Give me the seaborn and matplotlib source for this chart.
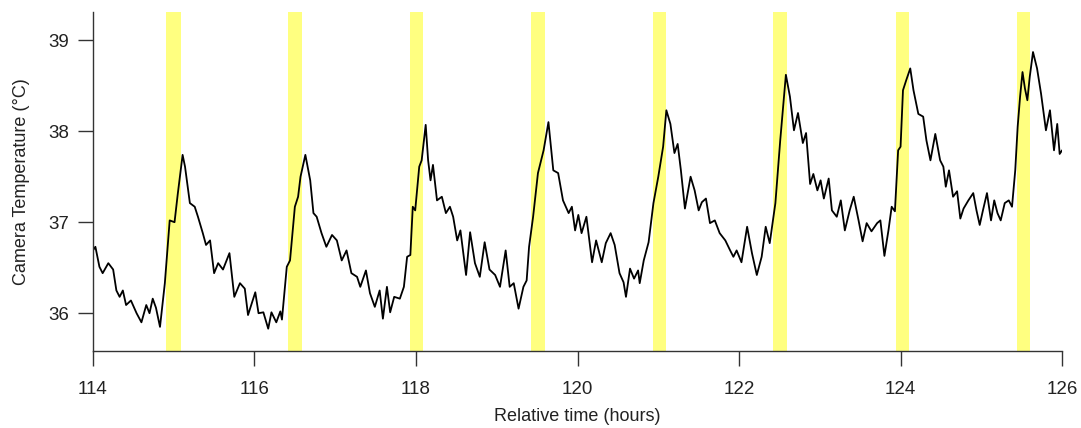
import numpy as np
import pandas as pd
import seaborn as sns
from matplotlib import pyplot as plt

# values
time_h = [
	114.00, 114.03, 114.08, 114.12, 114.19, 114.25, 114.29, 114.33, 114.37, 114.41,
	114.47, 114.54, 114.60, 114.66, 114.70, 114.74, 114.78, 114.83, 114.89, 114.95,
	115.01, 115.05, 115.11, 115.14, 115.20, 115.26, 115.30, 115.36, 115.40, 115.45,
	115.50, 115.55, 115.61, 115.69, 115.75, 115.82, 115.88, 115.92, 116.01, 116.05,
	116.11, 116.17, 116.21, 116.27, 116.32, 116.34, 116.40, 116.44, 116.50, 116.54,
	116.57, 116.63, 116.69, 116.73, 116.77, 116.83, 116.89, 116.96, 117.02, 117.08,
	117.14, 117.20, 117.27, 117.31, 117.38, 117.43, 117.49, 117.55, 117.59, 117.64,
	117.68, 117.73, 117.80, 117.85, 117.89, 117.93, 117.96, 117.99, 118.04, 118.07,
	118.12, 118.15, 118.18, 118.21, 118.26, 118.32, 118.37, 118.42, 118.46, 118.51,
	118.55, 118.62, 118.67, 118.73, 118.79, 118.85, 118.91, 118.98, 119.04, 119.11,
	119.16, 119.21, 119.27, 119.33, 119.37, 119.40, 119.45, 119.51, 119.58, 119.64,
	119.70, 119.76, 119.82, 119.89, 119.93, 119.97, 120.01, 120.05, 120.11, 120.18,
	120.23, 120.30, 120.35, 120.41, 120.46, 120.52, 120.57, 120.60, 120.65, 120.70,
	120.75, 120.77, 120.82, 120.88, 120.94, 121.00, 121.06, 121.10, 121.15, 121.20,
	121.24, 121.28, 121.33, 121.40, 121.45, 121.50, 121.54, 121.59, 121.64, 121.70,
	121.76, 121.83, 121.89, 121.93, 121.97, 122.03, 122.10, 122.16, 122.22, 122.28,
	122.33, 122.38, 122.45, 122.51, 122.58, 122.63, 122.68, 122.73, 122.79, 122.83,
	122.88, 122.92, 122.97, 123.01, 123.05, 123.11, 123.15, 123.21, 123.26, 123.31,
	123.37, 123.42, 123.48, 123.53, 123.58, 123.64, 123.71, 123.75, 123.80, 123.85,
	123.89, 123.93, 123.97, 124.00, 124.03, 124.07, 124.12, 124.16, 124.22, 124.28,
	124.32, 124.37, 124.43, 124.49, 124.53, 124.56, 124.60, 124.65, 124.70, 124.74,
	124.78, 124.84, 124.90, 124.94, 124.98, 125.02, 125.07, 125.12, 125.16, 125.20,
	125.24, 125.29, 125.34, 125.38, 125.42, 125.45, 125.48, 125.51, 125.54, 125.57,
	125.60, 125.64, 125.69, 125.74, 125.80, 125.85, 125.90, 125.94, 125.97, 126.00,
]
temp_c = [
	36.69, 36.73, 36.51, 36.44, 36.55, 36.48, 36.25, 36.18, 36.25, 36.09,
	36.14, 36.00, 35.90, 36.09, 36.00, 36.16, 36.06, 35.85, 36.33, 37.02,
	37.00, 37.31, 37.74, 37.61, 37.21, 37.17, 37.06, 36.88, 36.75, 36.80,
	36.44, 36.55, 36.48, 36.66, 36.18, 36.33, 36.27, 35.98, 36.23, 36.00,
	36.01, 35.83, 36.01, 35.90, 36.02, 35.93, 36.51, 36.58, 37.17, 37.28,
	37.50, 37.74, 37.46, 37.10, 37.06, 36.88, 36.73, 36.86, 36.80, 36.58,
	36.69, 36.44, 36.40, 36.29, 36.47, 36.22, 36.07, 36.25, 35.94, 36.29,
	36.01, 36.18, 36.16, 36.29, 36.62, 36.64, 37.17, 37.13, 37.61, 37.68,
	38.07, 37.68, 37.46, 37.63, 37.24, 37.28, 37.10, 37.17, 37.06, 36.80,
	36.91, 36.42, 36.89, 36.55, 36.40, 36.78, 36.48, 36.42, 36.29, 36.69,
	36.29, 36.33, 36.05, 36.29, 36.36, 36.73, 37.06, 37.54, 37.79, 38.10,
	37.57, 37.54, 37.24, 37.10, 37.17, 36.91, 37.08, 36.88, 37.06, 36.56,
	36.80, 36.56, 36.77, 36.88, 36.75, 36.44, 36.34, 36.18, 36.49, 36.38,
	36.47, 36.33, 36.58, 36.78, 37.21, 37.50, 37.83, 38.23, 38.08, 37.76,
	37.86, 37.57, 37.15, 37.50, 37.35, 37.13, 37.22, 37.26, 36.99, 37.02,
	36.88, 36.80, 36.69, 36.62, 36.69, 36.56, 36.95, 36.66, 36.42, 36.62,
	36.95, 36.77, 37.21, 37.90, 38.62, 38.38, 38.01, 38.20, 37.87, 37.98,
	37.42, 37.53, 37.35, 37.46, 37.26, 37.48, 37.13, 37.06, 37.24, 36.91,
	37.13, 37.28, 37.02, 36.79, 36.99, 36.90, 36.99, 37.02, 36.63, 36.91,
	37.17, 37.12, 37.79, 37.83, 38.45, 38.56, 38.69, 38.45, 38.19, 38.16,
	37.90, 37.68, 37.97, 37.68, 37.61, 37.39, 37.57, 37.28, 37.34, 37.04,
	37.15, 37.24, 37.32, 37.13, 36.97, 37.13, 37.32, 37.02, 37.24, 37.10,
	37.02, 37.21, 37.24, 37.17, 37.57, 38.05, 38.38, 38.65, 38.47, 38.34,
	38.60, 38.87, 38.69, 38.41, 38.01, 38.23, 37.79, 38.08, 37.75, 37.79,
]

# yellow shaded intervals
band_start = [114.91, 116.42, 117.93, 119.43, 120.93, 122.42, 123.94, 125.44]
band_end = [115.09, 116.59, 118.09, 119.60, 121.10, 122.60, 124.11, 125.60]

x_ticks = [114, 116, 118, 120, 122, 124, 126]
y_ticks = [36, 37, 38, 39]

df = pd.DataFrame({"Relative time (hours)": time_h, "Camera Temperature (°C)": temp_c})

sns.set_style("ticks")
plt.rcParams["font.family"] = ["Liberation Sans", "DejaVu Sans"]

fig = plt.figure(figsize=(10.81, 4.28), dpi=100)
ax = fig.add_axes([0.086, 0.181, 0.8965, 0.791])

for s, e in zip(band_start, band_end):
	ax.axvspan(s, e, color="#ffff80", lw=0, zorder=0)

sns.lineplot(data=df, x="Relative time (hours)", y="Camera Temperature (°C)", ax=ax,
			 color="black", lw=1.3, estimator=None, sort=False, zorder=2)

ax.set_xlim(114, 126)
ax.set_ylim(35.59, 39.31)
ax.set_xticks(x_ticks)
ax.set_yticks(y_ticks)
ax.tick_params(axis="both", direction="out", length=11, width=1, color="#333333",
			   labelsize=13.5, labelcolor="#222222")
ax.tick_params(axis="x", pad=11)
ax.tick_params(axis="y", pad=6)
ax.set_xlabel("Relative time (hours)", fontsize=13, color="#222222", labelpad=7)
ax.set_ylabel("Camera Temperature (°C)", fontsize=13, color="#222222", labelpad=13)

for side in ["top", "right"]:
	ax.spines[side].set_visible(False)
for side in ["left", "bottom"]:
	ax.spines[side].set_color("#333333")
	ax.spines[side].set_linewidth(1)

fig.savefig("out.png", dpi=100)
